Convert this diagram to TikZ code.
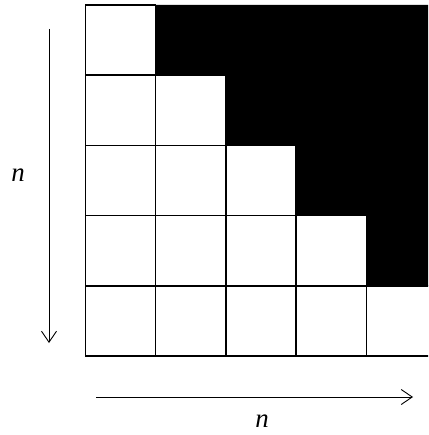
\documentclass[tikz,border=0pt]{standalone}
\usepackage{fontspec}
\setmainfont{Liberation Serif}
\usetikzlibrary{arrows.meta}
\begin{document}
\begin{tikzpicture}[x=1bp,y=-1bp,
  cellbox/.style={draw, line width=1.4bp},
  arr/.style={line width=0.9bp, -{Straight Barb[length=11bp,width=15bp,line width=0.9bp]}},
  lab/.style={inner sep=0pt, font=\fontsize{27}{30}\selectfont\itshape}]
\useasboundingbox (0,0) rectangle (428,435);
\begin{scope}
  \clip (0,0) rectangle (428,435);
  \fill[black] (155.7,5) -- (437,5) -- (437,285.8) -- (366.3,285.8) -- (366.3,215.6)
     -- (296.1,215.6) -- (296.1,145.4) -- (225.9,145.4) -- (225.9,75.2) -- (155.7,75.2) -- cycle;
  \foreach \r in {0,...,4} {
    \foreach \c in {0,...,\r} {
      \draw[cellbox] ({85.5+70.2*\c},{5+70.2*\r}) rectangle ({85.5+70.2*(\c+1)},{5+70.2*(\r+1)});
    }
  }
\end{scope}
\coordinate (vtop) at (49,29);
\coordinate (vbot) at (49,343);
\draw[arr] (vtop) -- (vbot);
\coordinate (hl) at (96,397);
\coordinate (hr) at (413,397);
\draw[arr] (hl) -- (hr);
\node[lab] (nleft) at (18,175) {n};
\node[lab] (nbot) at (262,421) {n};
\end{tikzpicture}
\end{document}
